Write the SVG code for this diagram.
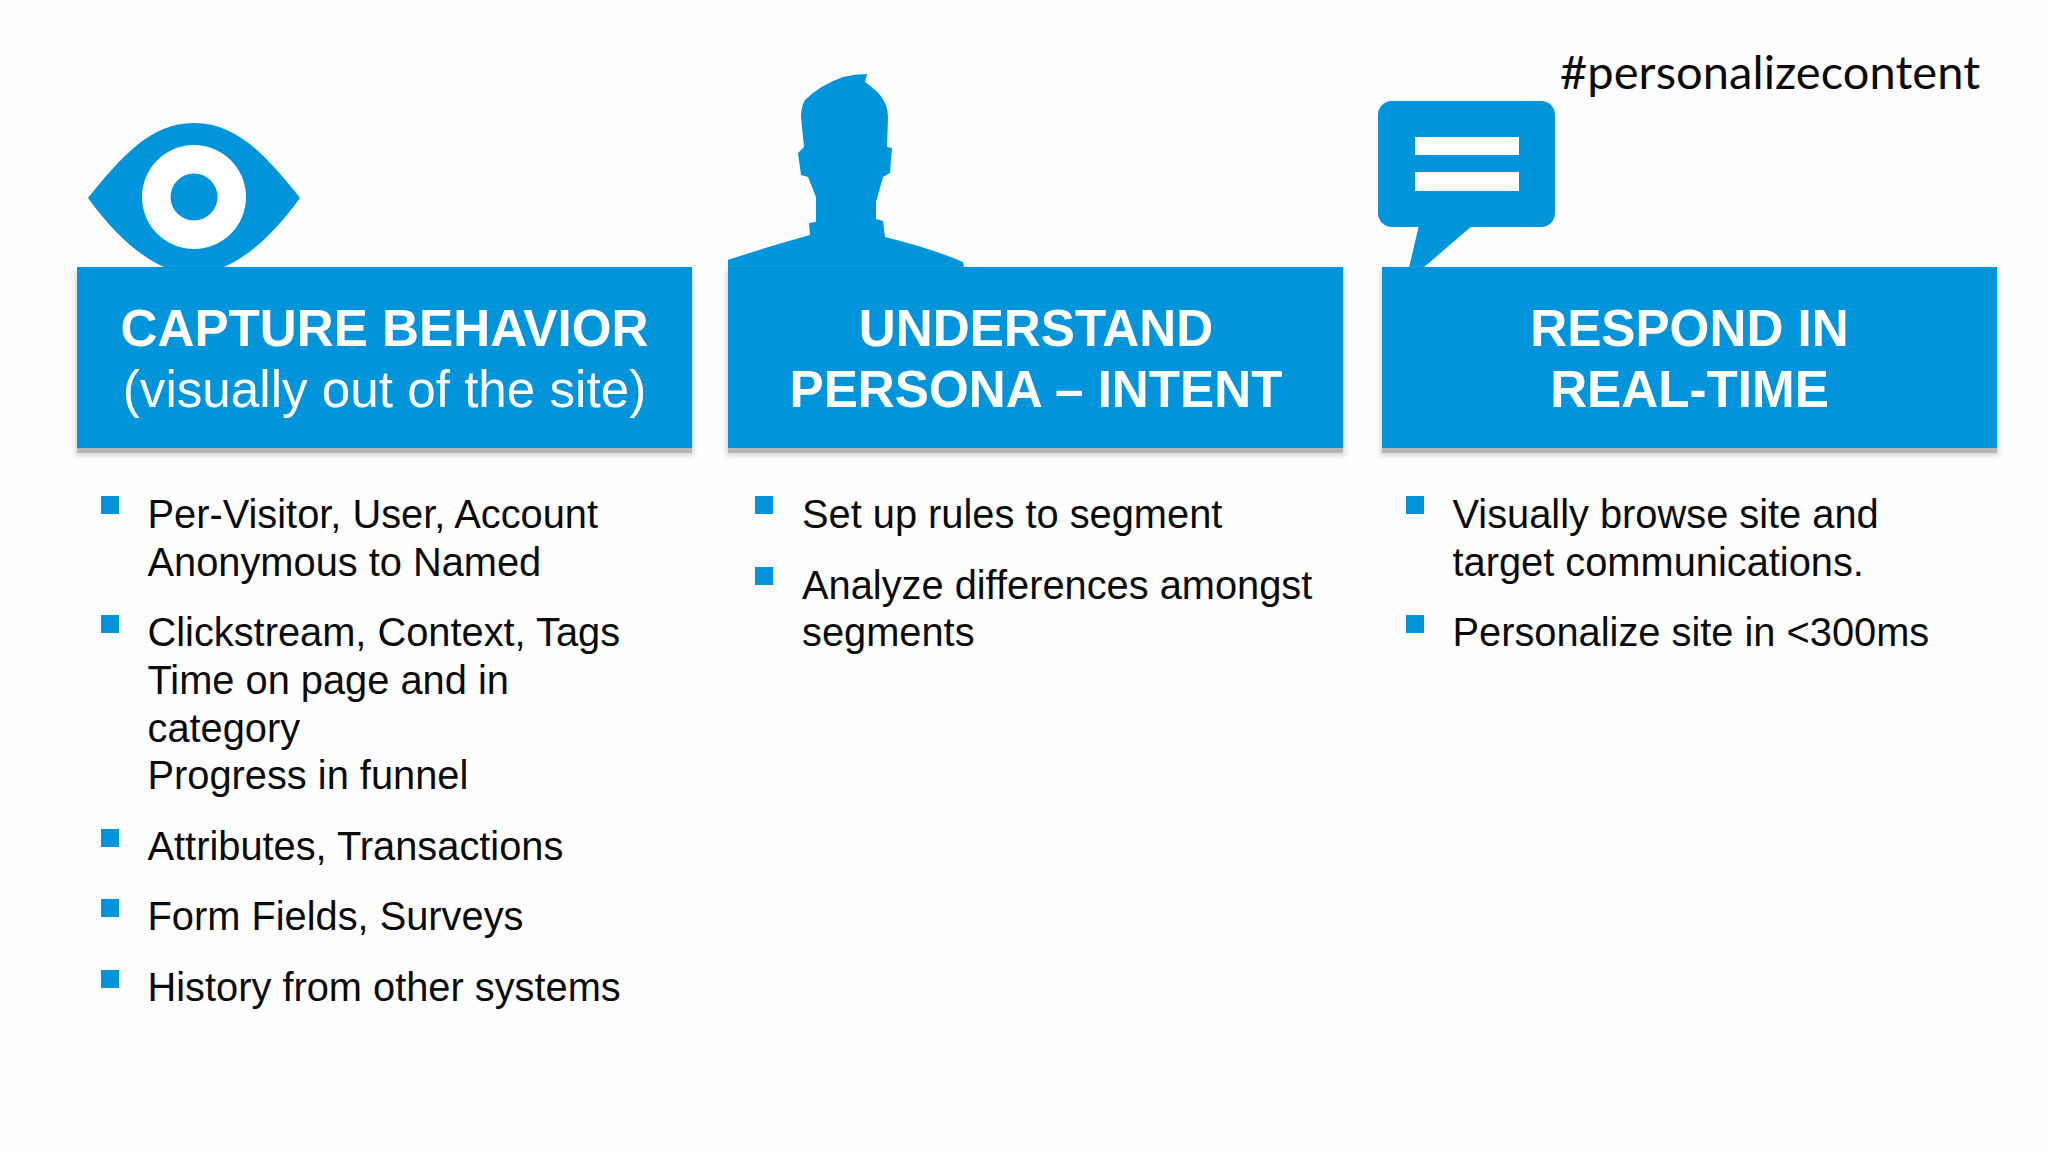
<svg xmlns="http://www.w3.org/2000/svg" width="2048" height="1152" viewBox="0 0 2048 1152">
<defs><filter id="soft" x="-5%" y="-10%" width="110%" height="120%"><feGaussianBlur stdDeviation="2.500"/></filter></defs>
<style>
.bl{fill:#0095da}
.sh{fill:#b6b6b6}
.ha{fill:#d8d8d8}
.h{font:bold 51.200px "Liberation Sans",Arial,sans-serif;fill:#fff;text-anchor:middle}
.hr{font:51.200px "Liberation Sans",Arial,sans-serif;fill:#fff;text-anchor:middle}
.t{font:39.800px "Liberation Sans",Arial,sans-serif;fill:#0a0a0a}
</style>
<rect width="2048" height="1152" fill="#fefefe"/>
<g id="hashtag"><text x="1560" y="88.500" style="font:47px Lato,'Open Sans',sans-serif;fill:#0a0a0a" textLength="420">#personalizecontent</text></g>
<g id="capture">
<path class="bl" d="M88 198C120 158 150 123 194 123C238 123 268 158 300 198C272 237 245 258 224 267H164C143 258 116 237 88 198Z"/>
<circle cx="194" cy="197" r="52" fill="#fff"/><circle cx="194" cy="197" r="23.500" class="bl"/>
<rect class="ha" x="75" y="270" width="619" height="186" filter="url(#soft)"/><rect class="sh" x="77" y="440" width="615" height="13"/><rect class="bl" x="77" y="267" width="615" height="181"/>
<text class="h" x="384.500" y="346">CAPTURE BEHAVIOR</text><text class="hr" x="384.500" y="407">(visually out of the site)</text>
<rect class="bl" x="101" y="496" width="18" height="18"/><text class="t" x="147.500" y="527.500">Per-Visitor, User, Account</text><text class="t" x="147.500" y="575.500">Anonymous to Named</text>
<rect class="bl" x="101" y="615" width="18" height="18"/><text class="t" x="147.500" y="646">Clickstream, Context, Tags</text><text class="t" x="147.500" y="694">Time on page and in</text><text class="t" x="147.500" y="741.500">category</text><text class="t" x="147.500" y="789">Progress in funnel</text>
<rect class="bl" x="101" y="829" width="18" height="18"/><text class="t" x="147.500" y="860">Attributes, Transactions</text>
<rect class="bl" x="101" y="899" width="18" height="18"/><text class="t" x="147.500" y="930">Form Fields, Surveys</text>
<rect class="bl" x="101" y="970" width="18" height="18"/><text class="t" x="147.500" y="1001">History from other systems</text>
</g>
<g id="understand">
<path class="bl" d="M728 260Q770 246 810 235L809 223L816 222L816 197L808 177L801 175L798 153L804 147L801 117Q801 106 805 100Q820 85 843 77Q855 74 867 74L865 82Q876 90 880 95Q888 105 888 117L887 147L892 148L890 173L883 177L876 202L876 219L883 221L885 237Q930 248 963 262L964 267V280H728Z"/>
<rect class="ha" x="726" y="270" width="619" height="186" filter="url(#soft)"/><rect class="sh" x="728" y="440" width="615" height="13"/><rect class="bl" x="728" y="267" width="615" height="181"/>
<text class="h" x="1036" y="346">UNDERSTAND</text><text class="h" x="1036" y="407">PERSONA – INTENT</text>
<rect class="bl" x="755" y="496" width="18" height="18"/><text class="t" x="802" y="527.500">Set up rules to segment</text>
<rect class="bl" x="755" y="567" width="18" height="18"/><text class="t" x="802" y="598.500">Analyze differences amongst</text><text class="t" x="802" y="646">segments</text>
</g>
<g id="respond">
<rect class="bl" x="1378" y="101" width="177" height="126" rx="14"/>
<path class="bl" d="M1419 225L1409 268H1423L1473 225Z"/>
<rect x="1415" y="137" width="104" height="18" fill="#fff"/><rect x="1415" y="172" width="104" height="19" fill="#fff"/>
<rect class="ha" x="1380" y="270" width="619" height="186" filter="url(#soft)"/><rect class="sh" x="1382" y="440" width="615" height="13"/><rect class="bl" x="1382" y="267" width="615" height="181"/>
<text class="h" x="1689.500" y="346">RESPOND IN</text><text class="h" x="1689.500" y="407">REAL-TIME</text>
<rect class="bl" x="1406" y="496" width="18" height="18"/><text class="t" x="1452.500" y="527.500">Visually browse site and</text><text class="t" x="1452.500" y="575.500">target communications.</text>
<rect class="bl" x="1406" y="615" width="18" height="18"/><text class="t" x="1452.500" y="646">Personalize site in &lt;300ms</text>
</g>
</svg>
